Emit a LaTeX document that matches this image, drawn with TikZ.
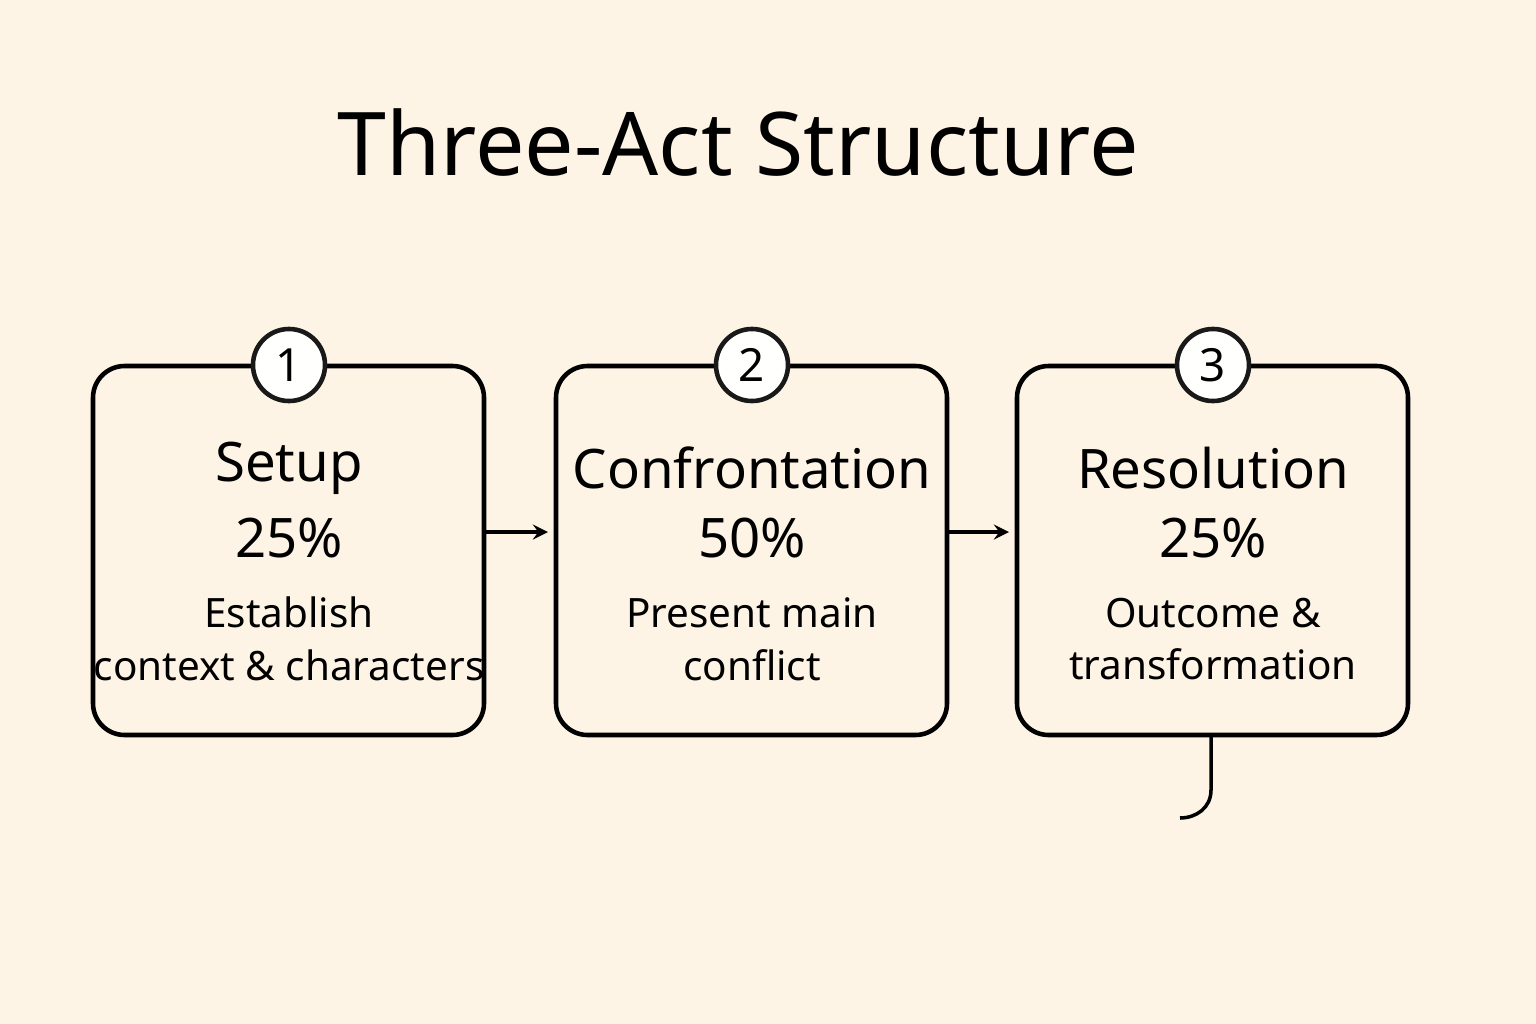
\documentclass[tikz,border=0pt]{standalone}
\usepackage{fontspec}
\setmainfont{Noto Sans}
\begin{document}
\begin{tikzpicture}[x=0.01cm,y=-0.01cm,line width=1.3pt,
  box/.style={draw=black!90,rounded corners=9pt,minimum width=391\pgflinewidth,anchor=north west},
  num/.style={draw=black!90,circle,fill=white!97!yellow!30,minimum size=72*0.2845pt,inner sep=0pt,font=\fontsize{13}{13}\selectfont\bfseries},
  ttl/.style={font=\fontsize{15.5}{17}\selectfont\bfseries},
  pct/.style={font=\fontsize{15.5}{17}\selectfont\bfseries},
  txt/.style={font=\fontsize{11.5}{15}\selectfont,align=center},
  arr/.style={->,>=stealth,line width=0.9pt}]
\fill[white!96!yellow!60!orange!20] (0,0) rectangle (1536,1024);
\useasboundingbox (0,0) rectangle (1536,1024);
\node[font=\fontsize{25}{28}\selectfont\bfseries] (title) at (738,143) {Three-Act Structure};
\foreach \i/\x/\t/\p/\a/\b in {1/93/Setup/25\%/Establish/context \& characters,
  2/556/Confrontation/50\%/Present main/conflict,
  3/1017/Resolution/25\%/Outcome \&/transformation}{
  \draw[rounded corners=9pt] (\x,366) rectangle (\x+391,735);
  \coordinate (b\i w) at (\x,532);
  \coordinate (b\i e) at (\x+391,532);
  \node[num] (c\i) at (\x+196,365) {\i};
  \node[ttl] (t\i) at (\x+196,468) {\t};
  \node[pct] (p\i) at (\x+196,538) {\p};
  \node[txt] (d\i) at (\x+196,639) {\a\\\b};
}
\draw[arr] (b1e) -- ([xshift=-8*0.2845pt]b2w);
\draw[arr] (b2e) -- ([xshift=-8*0.2845pt]b3w);
\coordinate (tail) at (1211,735);
\coordinate (tailend) at (1180,818);
\draw[line width=1pt] (tail) -- (1211,790) .. controls (1211,808) and (1196,818) .. (tailend);
\end{tikzpicture}
\end{document}
